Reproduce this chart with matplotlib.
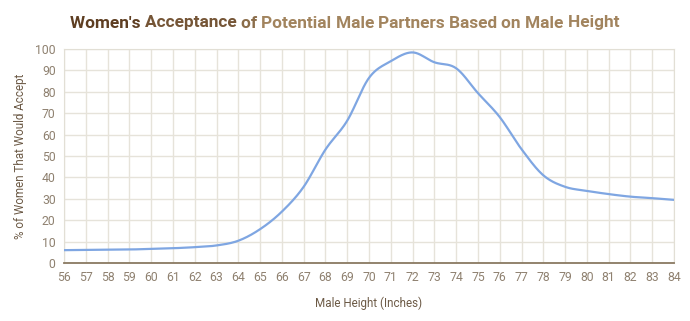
import numpy as np
import matplotlib
matplotlib.use('Agg')
import matplotlib.pyplot as plt

plt.rcParams['font.family'] = ['Roboto', 'DejaVu Sans']

# 身高（英寸）与接受比例（%）
heights = list(range(56, 85))
accept = [6.0, 6.1, 6.2, 6.3, 6.6, 6.9, 7.4, 8.2, 10.4, 15.8, 24.0, 35.6, 53.0, 66.5,
          86.5, 94.3, 98.4, 93.8, 91.0, 79.4, 68.2, 53.2, 41.0, 35.6, 33.7, 32.2,
          31.0, 30.3, 29.5]
y_ticks = list(range(0, 101, 10))

title = "Women's Acceptance of Potential Male Partners Based on Male Height"
x_title = "Male Height (Inches)"
y_title = "% of Women That Would Accept"


def smooth(x, y, n=20):
    # Catmull-Rom 平滑曲线
    x = np.asarray(x, float)
    y = np.asarray(y, float)
    px = np.concatenate([[2 * x[0] - x[1]], x, [2 * x[-1] - x[-2]]])
    py = np.concatenate([[2 * y[0] - y[1]], y, [2 * y[-1] - y[-2]]])
    xs, ys = [], []
    t = np.linspace(0, 1, n, endpoint=False)
    for i in range(1, len(px) - 2):
        for p, out in ((px, xs), (py, ys)):
            p0, p1, p2, p3 = p[i - 1], p[i], p[i + 1], p[i + 2]
            out.append(0.5 * ((2 * p1) + (-p0 + p2) * t
                              + (2 * p0 - 5 * p1 + 4 * p2 - p3) * t ** 2
                              + (-p0 + 3 * p1 - 3 * p2 + p3) * t ** 3))
    xs.append([x[-1]])
    ys.append([y[-1]])
    return np.concatenate(xs), np.concatenate(ys)


fig = plt.figure(figsize=(6.9, 3.21), dpi=100)
ax = fig.add_axes([64 / 690, 1 - 263 / 321, 610 / 690, 214 / 321])

sx, sy = smooth(heights, accept)
ax.plot(sx, sy, color='#7fa6e2', lw=1.6, zorder=3)

ax.set_xlim(56, 84)
ax.set_ylim(0, 100)
ax.set_xticks(heights)
ax.set_yticks(y_ticks)
ax.grid(True, color='#e6e3da', lw=1)
ax.set_axisbelow(True)
for s in ['top', 'right', 'left']:
    ax.spines[s].set_color('#e2dfd5')
ax.spines['bottom'].set_color('#8a7a62')
ax.spines['bottom'].set_linewidth(1.3)
ax.tick_params(length=0, labelsize=8.8, colors='#8f8170', pad=6)

ax.set_xlabel(x_title, fontsize=8.4, color='#6c5a46', labelpad=9)
ax.set_ylabel(y_title, fontsize=8.4, color='#6c5a46', labelpad=6)

# 标题渐变色
words = title.split(' ')
c0 = np.array([0x5e, 0x3e, 0x22]) / 255
c1 = np.array([0xa2, 0x84, 0x5e]) / 255
r = fig.canvas.get_renderer()
x0 = 70 / 690
for i, w in enumerate(words):
    f = min(1, i / 3)
    col = c0 * (1 - f) + c1 * f
    t = fig.text(x0, 1 - 23 / 321, w + ' ', fontsize=12.4, fontweight='bold',
                 color=col, va='center', ha='left')
    bb = t.get_window_extent(renderer=r)
    x0 += bb.width / fig.bbox.width

fig.savefig('out.png', dpi=100, facecolor='white')
